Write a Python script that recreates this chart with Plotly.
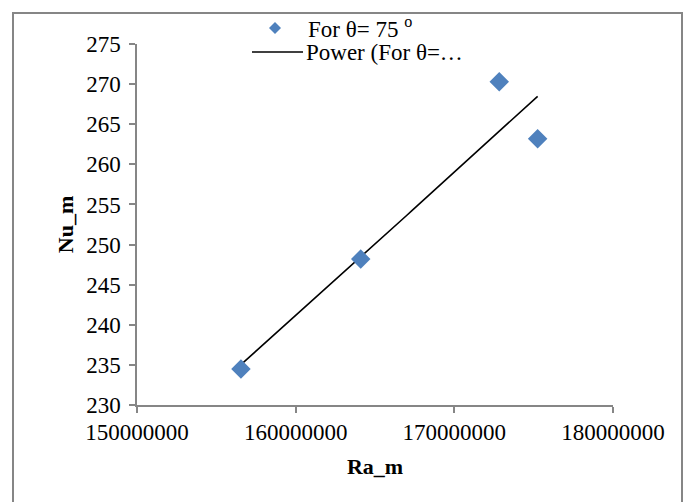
import numpy as np
import plotly.graph_objects as go

# Mean Rayleigh number vs mean Nusselt number, θ = 75°
ra_m = [156550000, 164100000, 172830000, 175250000]
nu_m = [234.5, 248.2, 270.3, 263.2]

series_name = "For θ= 75 <sup>o</sup>"
trend_name = "Power (For θ=…"

x_ticks = [150000000, 160000000, 170000000, 180000000]
y_ticks = [230, 235, 240, 245, 250, 255, 260, 265, 270, 275]

# Power-law trendline  Nu = a * Ra^b  (least squares in log space)
b, ln_a = np.polyfit(np.log(ra_m), np.log(nu_m), 1)
ra_fit = np.linspace(min(ra_m), max(ra_m), 60)
nu_fit = np.exp(ln_a) * ra_fit ** b

W, H = 684, 502
L, R, T, B = 137, 71, 44, 97
PW, PH = W - L - R, H - T - B


def px(x):
    return (x - L) / PW


def py(y):
    return (H - B - y) / PH


FONT = "Liberation Serif"
BLUE = "#4F81BD"
GREY = "#868686"

fig = go.Figure()
fig.add_trace(go.Scatter(
    x=ra_fit, y=nu_fit, mode="lines", name=trend_name,
    line=dict(color="black", width=1.6), showlegend=False,
))
fig.add_trace(go.Scatter(
    x=ra_m, y=nu_m, mode="markers", name=series_name,
    marker=dict(symbol="diamond", size=15, color=BLUE, line=dict(width=0)),
    showlegend=False,
))

axis_common = dict(
    showgrid=False, zeroline=False, showline=True, linecolor=GREY, linewidth=1.5,
    ticks="outside", ticklen=6, tickwidth=1.5, tickcolor=GREY,
    tickfont=dict(family=FONT, size=23, color="black"),
    mirror=False,
)

fig.update_layout(
    width=W, height=H,
    margin=dict(l=L, r=R, t=T, b=B),
    paper_bgcolor="white", plot_bgcolor="white",
    font=dict(family=FONT, size=22, color="black"),
    xaxis=dict(
        range=[x_ticks[0], x_ticks[-1]], tickvals=x_ticks,
        ticktext=[str(v) for v in x_ticks],
        title=dict(text="<b>Ra_m</b>", font=dict(family=FONT, size=22), standoff=14),
        **axis_common,
    ),
    yaxis=dict(
        range=[y_ticks[0], y_ticks[-1]], tickvals=y_ticks,
        ticktext=[str(v) for v in y_ticks],
        title=dict(text="<b>Nu_m</b>", font=dict(family=FONT, size=22), standoff=6),
        ticklabelstandoff=4,
        **axis_common,
    ),
    showlegend=False,
)

# Chart-area frame
fig.add_shape(type="rect", xref="paper", yref="paper",
              x0=px(13), x1=px(682), y0=py(530), y1=py(13),
              line=dict(color=GREY, width=2), fillcolor="rgba(0,0,0,0)", layer="below")

# Legend: marker sample, line sample and labels
fig.add_shape(type="path", xref="paper", yref="paper",
              path=(f"M {px(269)},{py(28)} L {px(275)},{py(22)} "
                    f"L {px(281)},{py(28)} L {px(275)},{py(34)} Z"),
              fillcolor=BLUE, line=dict(width=0))
fig.add_shape(type="line", xref="paper", yref="paper",
              x0=px(252), x1=px(303), y0=py(52), y1=py(52),
              line=dict(color="black", width=1.6))
fig.add_annotation(x=px(306), y=py(28), xref="paper", yref="paper",
                   text=series_name, showarrow=False, xanchor="left", yanchor="middle",
                   font=dict(family=FONT, size=23, color="black"))
fig.add_annotation(x=px(304), y=py(53), xref="paper", yref="paper",
                   text=trend_name, showarrow=False, xanchor="left", yanchor="middle",
                   font=dict(family=FONT, size=23, color="black"))

fig.write_html("out.html")
